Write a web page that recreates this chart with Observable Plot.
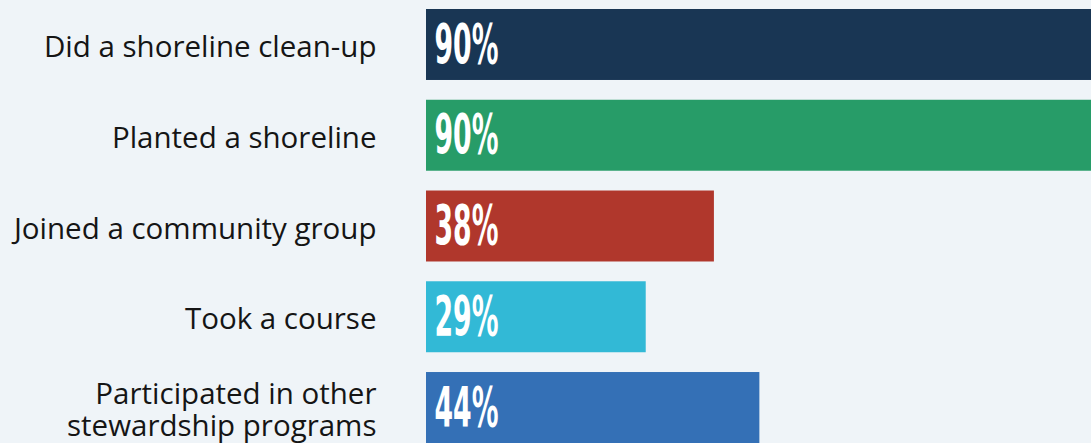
<!DOCTYPE html>
<html><head><meta charset="utf-8">
<script src="https://cdn.jsdelivr.net/npm/d3@7"></script>
<script src="https://cdn.jsdelivr.net/npm/@observablehq/plot@0.6"></script>
<style>
html,body{margin:0;padding:0;background:#eff4f8;overflow:hidden}
#chart svg{display:block}
</style></head><body><div id="chart"></div>
<script>
const categories = [
  "Did a shoreline clean-up",
  "Planted a shoreline",
  "Joined a community group",
  "Took a course",
  "Participated in other\nstewardship programs"
];
const values = [90, 90, 38, 29, 44];
const colors = ["#193654", "#279c68", "#b0372c", "#32b9d6", "#3470b6"];
const valueLabels = ["90%", "90%", "38%", "29%", "44%"];

const data = categories.map((c, i) => ({category: c, value: values[i], color: colors[i], label: valueLabels[i]}));

const chart = Plot.plot({
  width: 1091, height: 443,
  marginLeft: 426, marginRight: 0, marginTop: 9, marginBottom: 0,
  style: {background: "transparent", fontFamily: "Open Sans", overflow: "hidden"},
  x: {domain: [0, 87.77], axis: null},
  y: {domain: categories, paddingInner: 0.218, paddingOuter: 0, round: false, label: null},
  marks: [
    Plot.barX(data, {x: "value", y: "category", fill: "color", clip: true}),
    Plot.axisY({tickSize: 0, tickPadding: 50, fontSize: 29.5, lineHeight: 1.07, dy: 2, color: "#151515", fontFamily: "Open Sans", label: null, tickFormat: d => d}),
    Plot.text(data, {x: 0, y: "category", text: "label", textAnchor: "start", dx: 8, fill: "white",
      fontSize: 55, fontWeight: "bold", fontFamily: "Liberation Sans Narrow, DejaVu Sans Condensed, sans-serif"})
  ]
});
d3.select(chart).selectAll("text")
  .filter(function() { return /%$/.test(this.textContent); })
  .attr("textLength", 64).attr("lengthAdjust", "spacingAndGlyphs");
document.getElementById("chart").appendChild(chart);
</script></body></html>
